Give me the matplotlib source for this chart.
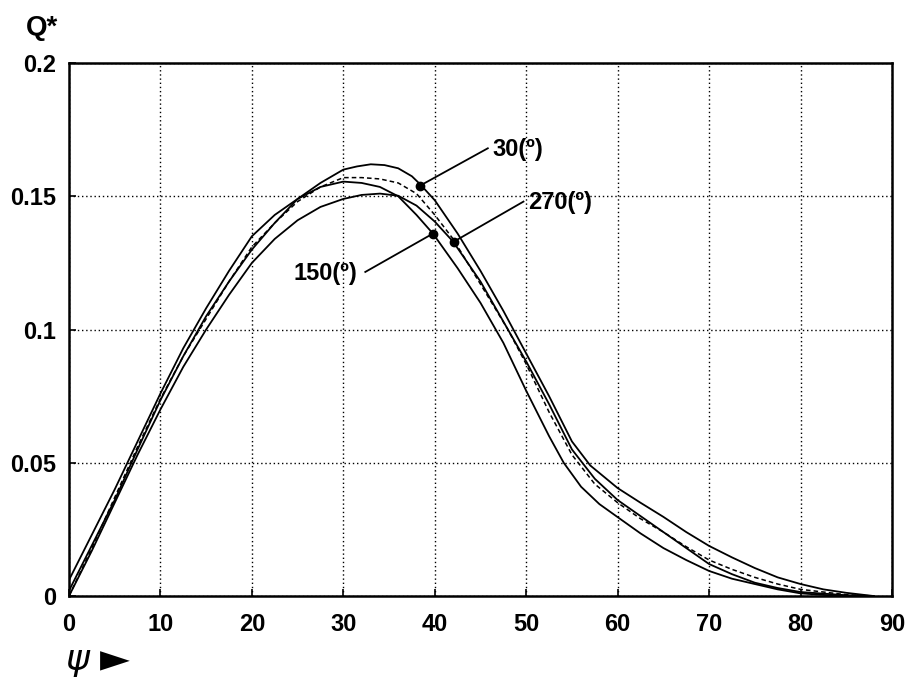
import matplotlib
matplotlib.use('Agg')
import matplotlib.pyplot as plt

# Q* against psi (three solid curves + one dashed)
psi_30 = [0, 2.5, 5, 7.5, 10, 12.5, 15, 17.5, 20, 22.5, 25, 27.5, 30, 31.5, 33, 34.5, 36, 37.5, 38.4, 40,
          42.5, 45, 47.5, 50, 52.5, 55, 57, 60, 62.5, 65, 67.5, 70, 72.5, 75, 77.5, 80, 82.5, 85, 88]
q_30 = [0.002, 0.019, 0.036, 0.055, 0.0735, 0.090, 0.105, 0.118, 0.130, 0.140, 0.149, 0.155, 0.160, 0.1612,
        0.162, 0.1617, 0.1605, 0.1575, 0.1545, 0.1485, 0.136, 0.122, 0.107, 0.091, 0.075, 0.058, 0.049, 0.0405,
        0.035, 0.0297, 0.024, 0.0188, 0.0145, 0.0105, 0.007, 0.0045, 0.0025, 0.0012, 0.0]

psi_150 = [0, 2.5, 5, 7.5, 10, 12.5, 15, 17.5, 20, 22.5, 25, 27.5, 30, 32, 34, 36, 38, 39.8,
           42.5, 45, 47.5, 50, 52.5, 54.1, 56, 58, 60, 62.5, 65, 67.5, 70, 72.5, 75, 77.5, 80, 83, 86]
q_150 = [0.006, 0.023, 0.040, 0.058, 0.076, 0.093, 0.108, 0.122, 0.135, 0.143, 0.149, 0.1535, 0.1555, 0.155,
         0.1535, 0.150, 0.143, 0.136, 0.123, 0.110, 0.095, 0.077, 0.060, 0.050, 0.041, 0.0345, 0.0296, 0.0235,
         0.018, 0.0135, 0.0094, 0.0065, 0.0045, 0.0025, 0.001, 0.0003, 0.0]

psi_270 = [0, 2.5, 5, 7.5, 10, 12.5, 15, 17.5, 20, 22.5, 25, 27.5, 30, 32, 34, 36, 38, 40, 42,
           45, 48, 50, 52.5, 55, 57.5, 60, 62.5, 65, 67.5, 70, 72.5, 75, 77.5, 80, 85, 88]
q_270 = [0.0, 0.017, 0.035, 0.053, 0.070, 0.086, 0.100, 0.113, 0.125, 0.134, 0.141, 0.146, 0.149, 0.1505,
         0.151, 0.1502, 0.1465, 0.1405, 0.133, 0.118, 0.100, 0.088, 0.072, 0.055, 0.044, 0.036, 0.030,
         0.024, 0.018, 0.012, 0.0082, 0.005, 0.003, 0.0015, 0.0003, 0.0]

psi_dash = [0, 2.5, 5, 7.5, 10, 12.5, 15, 17.5, 20, 22.5, 25, 27.5, 30, 32, 34, 36, 38, 40, 42,
            45, 48, 50, 52.5, 55, 57.5, 60, 62.5, 65, 67.5, 70, 72.5, 75, 77.5, 80, 85, 88]
q_dash = [0.0, 0.018, 0.037, 0.056, 0.074, 0.090, 0.104, 0.118, 0.131, 0.140, 0.148, 0.1535, 0.157, 0.157,
          0.1565, 0.155, 0.151, 0.143, 0.134, 0.117, 0.100, 0.087, 0.069, 0.053, 0.042, 0.035, 0.029,
          0.024, 0.0185, 0.0135, 0.010, 0.007, 0.0045, 0.0025, 0.0005, 0.0]

# labelled points: dot on the curve, then a leader line out to the label
labels = ['30(º)', '270(º)', '150(º)']
dot_psi = [38.4, 42.1, 39.8]
dot_q = [0.154, 0.133, 0.136]
end_psi = [45.8, 49.7, 32.4]
end_q = [0.168, 0.148, 0.1216]

x_ticks = list(range(0, 100, 10))
y_ticks = [0, 0.05, 0.1, 0.15, 0.2]
y_tick_labels = ['0', '0.05', '0.1', '0.15', '0.2']

plt.rcParams['font.family'] = ['Liberation Sans', 'DejaVu Sans']

fig = plt.figure(figsize=(9.09, 6.79), dpi=100)
ax = fig.add_axes([0.0759, 0.1222, 0.9054, 0.785])

ax.plot(psi_30, q_30, color='black', lw=1.3)
ax.plot(psi_150, q_150, color='black', lw=1.3)
ax.plot(psi_270, q_270, color='black', lw=1.3)
ax.plot(psi_dash, q_dash, color='black', lw=1.1, ls=(0, (3, 2)))

for i in range(len(labels)):
    ax.plot([dot_psi[i], end_psi[i]], [dot_q[i], end_q[i]], color='black', lw=1.3)
    ax.plot(dot_psi[i], dot_q[i], 'o', color='black', ms=6)
    if end_psi[i] > dot_psi[i]:
        ax.text(end_psi[i] + 0.5, end_q[i] - 0.0005, labels[i], ha='left', va='center',
                fontsize=17, fontweight='bold')
    else:
        ax.text(end_psi[i] - 0.9, end_q[i] - 0.0005, labels[i], ha='right', va='center',
                fontsize=17, fontweight='bold')

ax.set_xlim(0, 90)
ax.set_ylim(0, 0.2)
ax.set_xticks(x_ticks)
ax.set_yticks(y_ticks)
ax.set_yticklabels(y_tick_labels)
ax.grid(True, color='black', ls=(0, (1, 2)), lw=1.0)
ax.tick_params(axis='both', direction='in', length=5, width=1.2, labelsize=17)
ax.tick_params(axis='x', pad=12)
ax.tick_params(axis='y', pad=9)
for lab in ax.get_xticklabels() + ax.get_yticklabels():
    lab.set_fontweight('bold')
for sp in ax.spines.values():
    sp.set_linewidth(1.8)

fig.text(0.028, 0.94, 'Q*', fontsize=20, fontweight='bold', ha='left', va='bottom')
fig.text(0.071, 0.026, r'$\psi$', fontsize=26, ha='left', va='center')
fig.text(0.110, 0.027, '►', fontsize=28, ha='left', va='center', family='DejaVu Sans')

fig.savefig('out.png', dpi=100)
